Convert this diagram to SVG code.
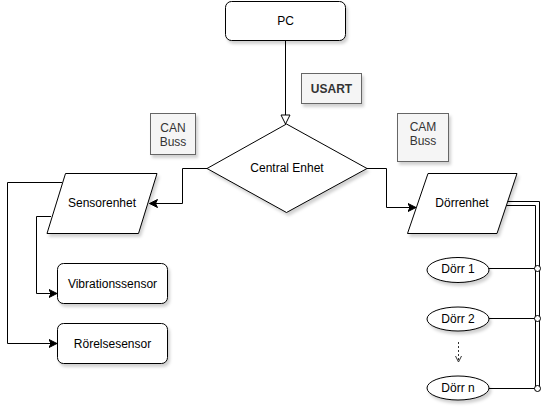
<svg xmlns="http://www.w3.org/2000/svg" width="558" height="415" viewBox="0 0 558 415">
<defs>
<filter id="sh" x="-10%" y="-10%" width="130%" height="140%">
<feDropShadow dx="2" dy="3" stdDeviation="1.5" flood-color="#000" flood-opacity="0.18"/>
</filter>
<marker id="classic" markerUnits="userSpaceOnUse" markerWidth="10" markerHeight="10" refX="8" refY="4" orient="auto" viewBox="0 0 10 8">
<path d="M0,0 L8,4 L0,8 L2,4 Z" fill="#000" stroke="#000" stroke-width="1"/>
</marker>
<marker id="block" markerUnits="userSpaceOnUse" markerWidth="12" markerHeight="12" refX="10" refY="5" orient="auto" viewBox="0 0 12 10">
<path d="M1,0.5 L10,5 L1,9.5 Z" fill="#fff" stroke="#000" stroke-width="1"/>
</marker>
<marker id="open" markerUnits="userSpaceOnUse" markerWidth="10" markerHeight="10" refX="7" refY="4" orient="auto" viewBox="0 0 10 8">
<path d="M1,1 L7,4 L1,7" fill="none" stroke="#333" stroke-width="1"/>
</marker>
</defs>
<style>
.n{fill:#fff;stroke:#000;stroke-width:1;filter:url(#sh)}
.lb{fill:#f5f5f5;stroke:#666;stroke-width:1;filter:url(#sh)}
.t{font-family:"Liberation Sans",Arial,sans-serif;font-size:12px;fill:#000;text-anchor:middle;dominant-baseline:central}
.tl{font-family:"Liberation Sans",Arial,sans-serif;font-size:12px;fill:#333;text-anchor:middle;dominant-baseline:central}
.e{fill:none;stroke:#000;stroke-width:1}
</style>
<rect width="558" height="415" fill="#fff"/>
<g id="connectors">
<path class="e" d="M285.5,40 V124" marker-end="url(#block)"/>
<path class="e" d="M207,168.5 H182.5 V203.5 H149.5" marker-end="url(#classic)"/>
<path class="e" d="M367,168.5 H386.5 V207.5 H416" marker-end="url(#classic)"/>
<path class="e" d="M62,182.5 H7.5 V343.5 H57" marker-end="url(#classic)"/>
<path class="e" d="M51,216.5 H36.5 V293.5 H57" marker-end="url(#classic)"/>
<path class="e" d="M507,201.5 H539.5 V391"/>
<path class="e" d="M506,205.5 H535.5 V391"/>
<path class="e" d="M489,268.5 H537.5"/>
<path class="e" d="M489,318.5 H537.5"/>
<path class="e" d="M489,388.5 H537.5"/>
<circle cx="537.5" cy="268.5" r="3" fill="#fff" stroke="#000"/>
<circle cx="537.5" cy="318.5" r="3" fill="#fff" stroke="#000"/>
<circle cx="537.5" cy="388.5" r="3" fill="#fff" stroke="#000"/>
<path d="M458.5,342 V362" fill="none" stroke="#333" stroke-width="1" stroke-dasharray="2 2" marker-end="url(#open)"/>
</g>
<g id="pc"><rect class="n" x="225.5" y="1.5" width="120" height="39" rx="6"/><text class="t" x="285.5" y="20.5">PC</text></g>
<g id="usart"><rect class="lb" x="301.5" y="73.5" width="60" height="30"/><text class="tl" x="331.5" y="88.5" font-weight="bold">USART</text></g>
<g id="canbuss"><rect class="lb" x="150.5" y="113.5" width="45" height="41"/><text class="tl" x="173" y="127.5">CAN</text><text class="tl" x="173" y="141.5">Buss</text></g>
<g id="cambuss"><rect class="lb" x="397.5" y="113.5" width="51" height="48"/><text class="tl" x="423" y="126.5">CAM</text><text class="tl" x="423" y="140.5">Buss</text></g>
<g id="central"><polygon class="n" points="286.5,124 367,168.5 286.5,212.5 207,168.5"/><text class="t" x="287" y="167.5">Central Enhet</text></g>
<g id="sensorenhet"><polygon class="n" points="65.5,173.5 157,173.5 138.5,233.5 47,233.5"/><text class="t" x="102" y="203">Sensorenhet</text></g>
<g id="dorrenhet"><polygon class="n" points="428,173.5 517,173.5 497,233.5 407.5,233.5"/><text class="t" x="462" y="203">Dörrenhet</text></g>
<g id="vibrationssensor"><rect class="n" x="57.5" y="263.5" width="110" height="40" rx="6"/><text class="t" x="112.5" y="283.5">Vibrationssensor</text></g>
<g id="rorelsesensor"><rect class="n" x="57.5" y="323.5" width="110" height="40" rx="6"/><text class="t" x="112.5" y="343.5">Rörelsesensor</text></g>
<g id="dorr1"><ellipse class="n" cx="458" cy="270" rx="31" ry="12.5"/><text class="t" x="458" y="269">Dörr 1</text></g>
<g id="dorr2"><ellipse class="n" cx="458" cy="319" rx="31" ry="12"/><text class="t" x="458" y="318.5">Dörr 2</text></g>
<g id="dorrn"><ellipse class="n" cx="458" cy="388" rx="31" ry="12"/><text class="t" x="458" y="387.5">Dörr n</text></g>
</svg>
